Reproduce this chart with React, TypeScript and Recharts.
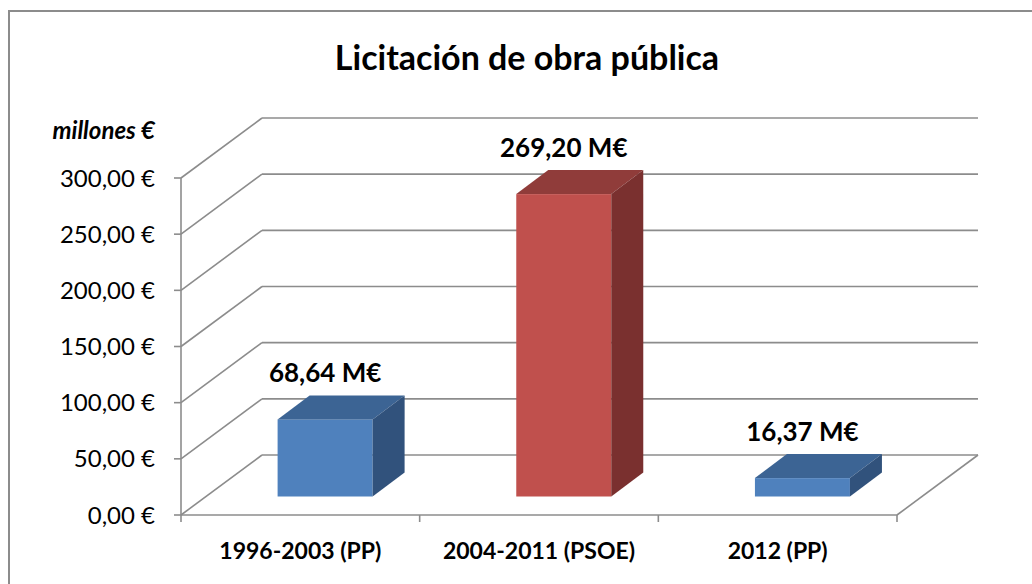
import { BarChart, Bar, XAxis, YAxis, CartesianGrid, LabelList } from 'recharts';

const categories = ['1996-2003 (PP)', '2004-2011 (PSOE)', '2012 (PP)'];
const values = [68.64, 269.2, 16.37];
const yTicks = [0, 50, 100, 150, 200, 250, 300];

const FRONT = ['#4f81bd', '#c0504d', '#4f81bd'];
const TOP = ['#3c6494', '#903c3a', '#3c6494'];
const SIDE = ['#31527c', '#7a302f', '#31527c'];

const FONT = 'Lato, "Open Sans", sans-serif';
const GRID = '#8c8c8c';

// depth offsets (px) for the fake 3d look
const WALL_DX = 81;
const WALL_DY = -60;
const BAR_DX = 25;
const BAR_DY = -18.5;
const BOX_DX = 32;
const BOX_DY = -24;

const data = categories.map((name, i) => ({ name, value: values[i] }));

const fmtEuro = (v: number) => v.toFixed(2).replace('.', ',') + ' €';
const fmtLabel = (v: number) => v.toFixed(2).replace('.', ',') + ' M€';

function Box3D(props: any) {
  const { x, y, width, height, index } = props;
  const fx = x + BAR_DX;
  const fy = y + BAR_DY;
  const w = width;
  const h = height;
  return (
    <g>
      <rect x={fx} y={fy} width={w} height={h} fill={FRONT[index]} />
      <polygon
        points={`${fx},${fy} ${fx + BOX_DX},${fy + BOX_DY} ${fx + w + BOX_DX},${fy + BOX_DY} ${fx + w},${fy}`}
        fill={TOP[index]}
      />
      <polygon
        points={`${fx + w},${fy} ${fx + w + BOX_DX},${fy + BOX_DY} ${fx + w + BOX_DX},${fy + h + BOX_DY} ${fx + w},${fy + h}`}
        fill={SIDE[index]}
      />
    </g>
  );
}

function GridLine(p: any) {
  const { x1, y1, x2 } = p;
  const isFloor = p.index === 0 || Math.abs(y1 - (p.y + p.height)) < 1;
  return (
    <g key={p.key}>
      <line x1={x1} y1={y1} x2={x1 + WALL_DX} y2={y1 + WALL_DY} stroke={GRID} strokeWidth={1.6} />
      <line x1={x1 + WALL_DX} y1={y1 + WALL_DY} x2={x2 + WALL_DX} y2={y1 + WALL_DY} stroke={GRID} strokeWidth={1.6} />
      {isFloor && (
        <line x1={x2} y1={y1} x2={x2 + WALL_DX} y2={y1 + WALL_DY} stroke={GRID} strokeWidth={1.6} />
      )}
    </g>
  );
}

function CategoryTick(props: any) {
  const { x, y, payload, index, visibleTicksCount, width } = props;
  const band = width / visibleTicksCount;
  const last = index === visibleTicksCount - 1;
  return (
    <g>
      <line x1={x - band / 2} y1={y} x2={x - band / 2} y2={y + 7} stroke={GRID} strokeWidth={1.6} />
      {last && <line x1={x + band / 2} y1={y} x2={x + band / 2} y2={y + 7} stroke={GRID} strokeWidth={1.6} />}
      <text x={x} y={y + 44} textAnchor="middle" fontFamily={FONT} fontWeight="bold" fontSize={23} fill="#000">
        {payload.value}
      </text>
    </g>
  );
}

function ValueLabel(props: any) {
  const { x, y, width, value } = props;
  return (
    <text
      x={x + width / 2 + BAR_DX}
      y={y - 56}
      textAnchor="middle"
      fontFamily={FONT}
      fontWeight="bold"
      fontSize={26}
      fill="#000"
    >
      {fmtLabel(value)}
    </text>
  );
}

export default function App() {
  return (
    <div style={{ position: 'absolute', left: 0, top: 0, width: 1032, height: 584, overflow: 'hidden', background: '#fff' }}>
      <div style={{ position: 'absolute', left: 8, top: 10, width: 1100, height: 700, border: '2.5px solid #8c8c8c', boxSizing: 'border-box' }} />
      <div
        style={{ position: 'absolute', left: 227, width: 600, top: 36, textAlign: 'center', fontFamily: FONT, fontWeight: 'bold', fontSize: 34, lineHeight: '42px', color: '#000' }}
      >
        Licitación de obra pública
      </div>
      <div
        style={{ position: 'absolute', left: 20, width: 135, top: 115, textAlign: 'right', fontFamily: FONT, fontWeight: 'bold', fontStyle: 'italic', fontSize: 24, lineHeight: '30px', color: '#000' }}
      >
        millones €
      </div>
      <div style={{ position: 'absolute', left: 0, top: 0 }}>
        <BarChart
          width={1032}
          height={584}
          data={data}
          margin={{ top: 178, right: 135, bottom: 0, left: 0 }}
          barCategoryGap="30%"
        >
          <CartesianGrid vertical={false} horizontal={GridLine} />
          <XAxis
            dataKey="name"
            height={69}
            axisLine={{ stroke: GRID, strokeWidth: 1.6 }}
            tickLine={false}
            tickSize={0}
            tickMargin={0}
            interval={0}
            tick={<CategoryTick />}
          />
          <YAxis
            width={181}
            domain={[0, 300]}
            ticks={yTicks}
            interval={0}
            tickFormatter={fmtEuro}
            axisLine={{ stroke: GRID, strokeWidth: 1.6 }}
            tickLine={{ stroke: GRID, strokeWidth: 1.6 }}
            tickSize={7}
            tickMargin={19}
            tick={{ fontFamily: FONT, fontSize: 24, fill: '#000' }}
          />
          <Bar dataKey="value" shape={<Box3D />} isAnimationActive={false}>
            <LabelList dataKey="value" content={<ValueLabel />} />
          </Bar>
        </BarChart>
      </div>
    </div>
  );
}
